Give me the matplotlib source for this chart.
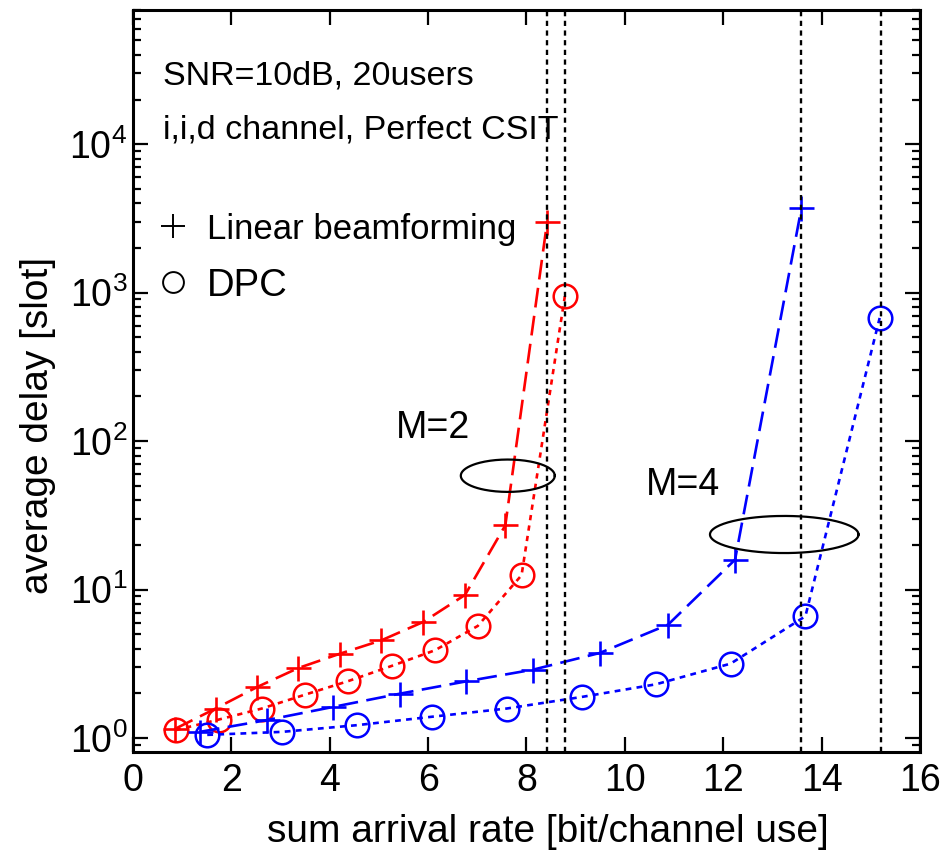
import numpy as np
import matplotlib
matplotlib.use("Agg")
import matplotlib.pyplot as plt

plt.rcParams['font.family'] = ['Liberation Sans', 'DejaVu Sans']
plt.rcParams['mathtext.default'] = 'regular'

# data
rate_lb2 = [0.85, 1.68, 2.53, 3.36, 4.21, 5.05, 5.90, 6.75, 7.57, 8.42]
delay_lb2 = [1.15, 1.58, 2.21, 2.96, 3.70, 4.55, 6.05, 9.2, 27.1, 3000]
rate_dpc2 = [0.87, 1.74, 2.62, 3.50, 4.38, 5.26, 6.14, 7.01, 7.90, 8.78]
delay_dpc2 = [1.13, 1.33, 1.58, 1.96, 2.42, 3.06, 3.90, 5.69, 12.5, 947]
rate_lb4 = [1.36, 2.72, 4.07, 5.43, 6.78, 8.14, 9.49, 10.88, 12.24, 13.59]
delay_lb4 = [1.10, 1.32, 1.62, 1.99, 2.41, 2.89, 3.74, 5.81, 15.9, 3725]
rate_dpc4 = [1.51, 3.03, 4.55, 6.07, 7.60, 9.12, 10.63, 12.15, 13.67, 15.18]
delay_dpc4 = [1.05, 1.10, 1.22, 1.39, 1.58, 1.89, 2.30, 3.17, 6.61, 676]

# stability limits (vertical dotted lines)
limits = [8.41, 8.79, 13.59, 15.20]

fig = plt.figure(figsize=(9.47, 8.5), dpi=100)
ax = fig.add_axes([0.1404, 0.1153, 0.8311, 0.8727])

lw = 1.9
ax.plot(rate_lb2, delay_lb2, color='red', lw=lw, dashes=(7.5, 3.2),
        marker='+', ms=18, mew=1.9)
ax.plot(rate_dpc2, delay_dpc2, color='red', lw=lw, dashes=(2, 2),
        marker='o', ms=17, mew=1.8, mfc='none')
ax.plot(rate_lb4, delay_lb4, color='blue', lw=lw, dashes=(7.5, 3.2),
        marker='+', ms=18, mew=1.9)
ax.plot(rate_dpc4, delay_dpc4, color='blue', lw=lw, dashes=(2.2, 2),
        marker='o', ms=17, mew=1.8, mfc='none')

for xv in limits:
    ax.axvline(xv, color='black', lw=1.7, dashes=(2.2, 1.9))

# ellipses grouping M=2 and M=4 curves (drawn in x / log10(y) space)
t = np.linspace(0, 2 * np.pi, 200)
for cx, cy, rx, ry in [(7.62, 1.767, 0.955, 0.109), (13.24, 1.371, 1.51, 0.125)]:
    ax.plot(cx + rx * np.cos(t), 10 ** (cy + ry * np.sin(t)), color='black', lw=1.6)

ax.text(6.1, 10 ** 2.02, 'M=2', fontsize=27, ha='center', va='baseline')
ax.text(11.18, 10 ** 1.635, 'M=4', fontsize=27, ha='center', va='baseline')

ax.set_yscale('log')
ax.set_xlim(0, 16)
ax.set_ylim(0.805, 8.0e4)
ax.set_xticks(np.arange(0, 17, 2))
ax.set_yticks([1, 10, 100, 1000, 10000])

ax.tick_params(which='both', direction='in', top=True, right=True, width=1.6)
ax.tick_params(which='major', length=11, labelsize=27)
ax.tick_params(which='minor', length=5.5)
ax.tick_params(axis='x', pad=8)
ax.tick_params(axis='y', pad=4)
for s in ax.spines.values():
    s.set_linewidth(2.2)

ax.set_xlabel('sum arrival rate [bit/channel use]', fontsize=28)
ax.set_ylabel('average delay [slot]', fontsize=28)
ax.xaxis.set_label_coords(0.527, -0.083)
ax.yaxis.set_label_coords(-0.098, 0.44)

# annotation text and legend
ax.text(0.038, 0.9, 'SNR=10dB, 20users', transform=ax.transAxes, fontsize=24.5)
ax.text(0.038, 0.827, 'i,i,d channel, Perfect CSIT', transform=ax.transAxes, fontsize=24.5)
ax.plot([0.051], [0.709], transform=ax.transAxes, marker='+', ms=17, mew=1.4,
        color='black', ls='none')
ax.plot([0.051], [0.634], transform=ax.transAxes, marker='o', ms=15, mew=1.4,
        mfc='none', color='black', ls='none')
ax.text(0.094, 0.692, 'Linear beamforming', transform=ax.transAxes, fontsize=25)
ax.text(0.094, 0.615, 'DPC', transform=ax.transAxes, fontsize=27.5)

fig.savefig('out.png', dpi=100)
